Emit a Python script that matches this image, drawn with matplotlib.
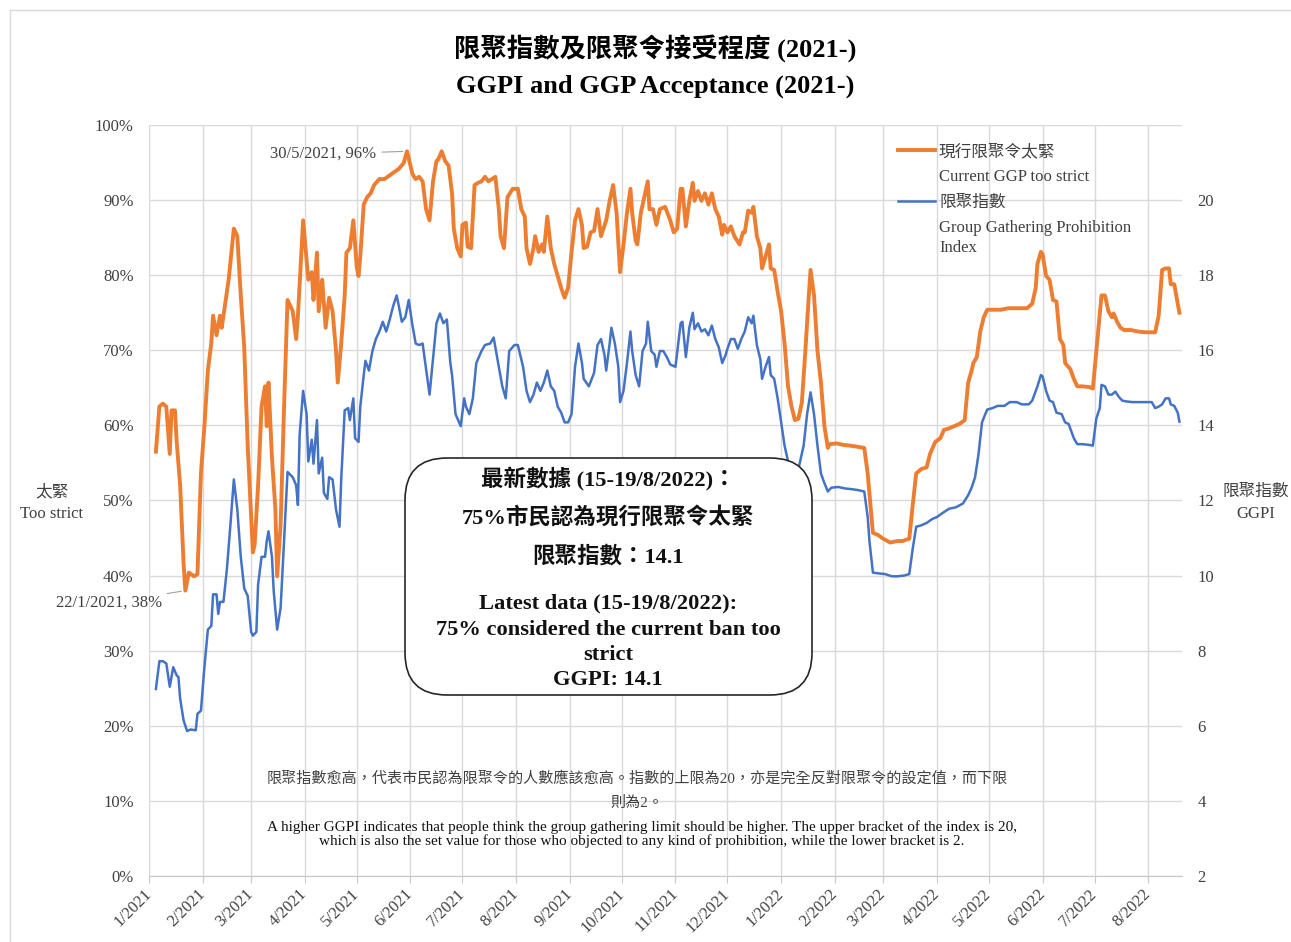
import matplotlib
matplotlib.use("Agg")
import matplotlib.pyplot as plt
from matplotlib.patches import FancyBboxPatch, Rectangle
from matplotlib.lines import Line2D
import numpy as np
import pandas as pd

plt.rcParams['font.family'] = ['Liberation Serif', 'Noto Sans CJK TC']

# ## Data, days counted from 1/1/2021
base_date = pd.Timestamp("2021-01-01")

# share who think the current GGP is too strict (%)
strict_days = [4, 6, 8, 10, 12, 13, 15, 16, 18, 20, 21, 23, 26, 28, 29, 30, 32, 34, 36, 37,
               39, 41, 42, 44, 46, 49, 51, 53, 55, 57, 60, 61, 63, 65, 67, 68, 69, 71, 73, 74,
               76, 78, 80, 83, 85, 86, 88, 89, 91, 92, 94, 95, 97, 98, 100, 102, 104, 106, 108, 109,
               111, 113, 114, 116, 118, 120, 121, 122, 124, 126, 128, 130, 133, 136, 139, 142, 144, 147, 149,
               152, 153, 154, 156, 158, 160, 162, 164, 166, 167, 169, 171, 173, 175, 176, 178, 180, 181, 183, 184,
               186, 188, 190, 192, 194, 196, 198, 200, 202, 203, 205, 207, 210, 213, 215, 217, 218, 220, 222, 223,
               225, 227, 228, 230, 232, 234, 236, 238, 240, 242, 244, 246, 248, 250, 251, 253, 255, 257, 259, 261,
               264, 266, 268, 270, 272, 274, 276, 278, 279, 281, 282, 284, 286, 288, 289, 291, 293, 295, 298, 301,
               303, 305,
               307, 308, 310, 312, 314, 315, 317, 319, 321, 323, 325, 327, 329, 331, 332, 334, 336, 338, 341, 343,
               344, 346, 348, 349, 351, 353, 354, 356, 358, 359, 361, 363, 365, 367, 369, 371, 373, 375, 377, 379,
               381, 382, 384, 386, 388, 390, 392, 393, 397, 401, 405, 408, 413, 415, 416, 418, 421, 424, 428, 432,
               435, 439, 441, 443, 446, 449, 451, 454, 457, 459, 462,
               464, 468, 471, 473, 475, 476, 478, 480, 482, 484, 488, 492, 496, 499, 503, 507, 510, 512, 513, 515,
               516, 518, 520, 522, 524, 526, 528, 529, 532, 534, 536, 539, 543, 545, 547, 550, 552, 554, 556, 557,
               559, 561, 563, 567, 571, 575, 578, 581, 583, 585, 587, 589, 590, 592, 594, 595]
strict_pct = [56.5, 62.5, 62.9, 62.5, 56.2, 62, 62, 57.8, 52, 41.5, 38, 40.4, 39.9, 40.2, 46.7, 53.6, 59.9, 67.3, 71, 74.6,
              72, 74.6, 73, 76.2, 79.4, 86.2, 85.2, 77.3, 70.4, 57.3, 43.1, 44.1, 52, 62.5, 65.2, 59.9, 65.7, 55.7, 48.8, 39.9,
              46.7, 62.5, 76.7, 75.2, 71.5, 74.6, 83, 87.3, 82, 79.4, 80.4, 76.7, 83, 75.2, 79.4, 73, 77, 75.2, 69.9, 65.7,
              70.9, 77.3, 83, 83.6, 87.3, 81, 79.9, 82.5, 89.4, 90.4, 90.9, 92, 92.8, 92.8, 93.3, 93.8, 94.1, 94.9, 96.5,
              93.6, 93.1, 92.8, 93.1, 92.5, 88.8, 87.3, 92.5, 95.2, 95.4, 96.5, 95.2, 94.6, 90.9, 86.2, 83.6, 82.5, 86.7, 87, 83.8,
              83.6, 92, 92.3, 92.5, 93.1, 92.5, 92.8, 93.1, 88.8, 85.2, 83.6, 90.4, 91.5, 91.5, 88.8, 87.8, 83.6, 81.5, 83.6, 85.2,
              83.1, 84.1, 83.1, 87.8, 83.6, 81.5, 79.9, 78.3, 77, 78.3, 83.1, 87.3, 88.8, 86.7, 83.6, 83.8, 85.7, 85.9, 88.8, 85.2,
              87.3, 89.9, 92, 88.3, 80.4, 84.1, 88.3, 91.5, 88.3, 84.6, 84.1, 88.3, 90.4, 92.5, 88.8, 88.8, 86.7, 88.8, 89.1, 87.3,
              85.7, 86.2,
              91.5, 91.5, 86.5, 89.9, 92.3, 89.9, 91.2, 89.9, 90.9, 89.4, 90.9, 88.8, 87.8, 85.4, 86.7, 85.7, 86.5, 85.2, 84.1, 85.7,
              85.7, 88.6, 88.3, 89.1, 85.2, 83.6, 80.9, 82.5, 84.1, 80.9, 80.7, 77.8, 75.2, 70.9, 65.2, 62.5, 60.7, 60.9, 63.1, 69.9,
              77.3, 80.7, 77.3, 69.9, 65.7, 59.9, 57, 57.5, 57.6, 57.4, 57.3, 57.2, 57, 53.6, 50.9, 45.7, 45.4, 44.9, 44.4, 44.6,
              44.6, 44.9, 49.4, 53.6, 54.2, 54.4, 56.2, 57.8, 58.3, 59.4, 59.6,
              59.8, 60.2, 60.7, 65.7, 67.3, 68.3, 69.1, 72.5, 74.4, 75.4, 75.4, 75.4, 75.6, 75.6, 75.6, 75.6, 76.2, 78.3, 81.5, 83.1,
              82.8, 79.9, 79.4, 76.7, 76.5, 71.5, 70.7, 68.3, 67.5, 66.2, 65.2, 65.2, 65.1, 64.9, 69.9, 77.3, 77.3, 75.2, 74.4, 74.9,
              73.8, 73, 72.7, 72.7, 72.5, 72.4, 72.4, 72.4, 74.6, 80.7, 80.9, 80.9, 78.8, 78.8, 76.2, 75]

# Group Gathering Prohibition Index (right axis)
ggpi_days = [4, 6, 8, 10, 12, 14, 16, 17, 18, 20, 22, 24, 27, 28, 30, 31, 32, 34, 36, 37,
             39, 40, 41, 43, 45, 47, 49, 51, 53, 55, 57, 59, 60, 62, 63, 65, 67, 68, 69, 71,
             72, 74, 76, 78, 80, 83, 85, 86, 87, 89, 91, 92, 94, 95, 97, 98, 100, 101, 103, 104,
             106, 108, 110, 111, 113, 115, 116, 118, 119, 121, 122, 124, 125, 127, 129, 131, 133, 135, 137, 139,
             141, 143, 144, 146, 148, 150,
             152, 154, 156, 158, 162, 166, 168, 170, 172, 174, 175, 177, 180, 182, 183, 185, 187, 189, 192, 194,
             197, 199, 202, 204, 206, 208, 211, 213, 216, 218, 220, 222, 224, 226, 228, 230, 232, 234, 236, 238,
             240, 242, 244, 246, 248, 250, 251, 254, 257, 259, 261, 263, 264, 266, 267, 269, 271, 272, 274, 276,
             278, 279, 281, 283, 285, 287, 288, 290, 292, 293, 295, 297, 299, 301, 304,
             307, 308, 310, 312, 314, 315, 317, 319, 321, 323, 325, 327, 329, 331, 333, 334, 336, 338, 340, 342,
             344, 346, 348, 349, 351, 353, 354, 356, 358, 359, 361, 363, 365, 367, 369, 371, 373, 375, 378, 380,
             382, 384, 386, 388, 390, 392, 394, 398, 402, 406, 409, 413, 415, 416, 418, 421, 425, 429, 432, 436,
             439, 441, 443, 446, 449, 452, 455, 458, 462,
             466, 470, 473, 475, 477, 479, 481, 482, 484, 487, 490, 494, 497, 501, 504, 508, 510, 513, 515, 516,
             518, 520, 522, 524, 527, 529, 531, 534, 536, 539, 543, 545, 547, 549, 550, 552, 554, 556, 558, 560,
             562, 564, 568, 572, 576, 579, 581, 583, 585, 587, 589, 590, 592, 594, 595]
ggpi_vals = [6.98, 7.72, 7.72, 7.66, 7.04, 7.56, 7.34, 7.3, 6.72, 6.14, 5.86, 5.9, 5.88, 6.32, 6.4, 6.98, 7.56, 8.56, 8.66, 9.5,
             9.5, 8.98, 9.3, 9.3, 10.18, 11.34, 12.56, 11.76, 10.5, 9.66, 9.46, 8.5, 8.4, 8.5, 9.76, 10.5, 10.5, 10.92, 11.18, 10.5,
             9.6, 8.56, 9.14, 10.92, 12.76, 12.62, 12.4, 11.88, 13.76, 14.92, 14.3, 13.04, 13.62, 12.98, 14.14, 12.72, 13.14, 12.2, 12.04, 12.62,
             12.56, 11.76, 11.3, 12.56, 14.4, 14.46, 14.14, 14.72, 13.66, 13.56, 14.5, 15.34, 15.72, 15.46, 15.98, 16.3, 16.5, 16.76, 16.5, 16.82,
             17.18, 17.46, 17.24, 16.76, 16.88, 17.34,
             16.7, 16.18, 16.14, 16.18, 14.82, 16.72, 16.98, 16.72, 16.82, 15.66, 15.34, 14.3, 13.98, 14.72, 14.5, 14.3, 14.72, 15.66, 15.98, 16.14,
             16.18, 16.34, 15.56, 15.04, 14.72, 15.98, 16.14, 16.14, 15.56, 14.92, 14.62, 14.82, 15.14, 14.92, 15.14, 15.46, 15.04, 14.92, 14.5, 14.34,
             14.08, 14.08, 14.3, 15.56, 16.18, 15.66, 15.24, 15.04, 15.4, 16.14, 16.3, 15.88, 15.46, 16.18, 16.6, 16.18, 15.56, 14.62, 14.92, 15.66,
             16.5, 15.98, 15.34, 15.04, 15.98, 16.18, 16.76, 15.98, 15.88, 15.56, 15.98, 15.98, 15.82, 15.62, 15.56,
             16.72, 16.76, 15.82, 16.6, 17, 16.56, 16.72, 16.5, 16.56, 16.4, 16.66, 16.3, 16.08, 15.66, 15.88, 16.04, 16.3, 16.3, 16.04, 16.3,
             16.5, 16.88, 16.72, 16.92, 16.14, 15.76, 15.24, 15.56, 15.82, 15.34, 15.24, 14.72, 14.08, 13.46, 13.04, 12.62, 12.4, 12.84, 13.46, 14.3,
             14.88, 14.3, 13.46, 12.72, 12.46, 12.24, 12.34, 12.36, 12.32, 12.3, 12.28, 12.24, 11.56, 10.92, 10.08, 10.06, 10.04, 9.98, 9.98, 10,
             10.04, 10.72, 11.3, 11.34, 11.4, 11.5, 11.56, 11.66, 11.78,
             11.82, 11.92, 12.14, 12.34, 12.62, 13.24, 14.08, 14.2, 14.42, 14.46, 14.52, 14.52, 14.62, 14.62, 14.56, 14.56, 14.66, 15.04, 15.34, 15.3,
             14.92, 14.66, 14.62, 14.34, 14.3, 14.08, 14.04, 13.66, 13.5, 13.5, 13.48, 13.46, 14.18, 14.46, 15.08, 15.04, 14.82, 14.82, 14.9, 14.76,
             14.66, 14.64, 14.62, 14.62, 14.62, 14.62, 14.46, 14.5, 14.56, 14.72, 14.72, 14.56, 14.52, 14.34, 14.1]

pct_ticks = list(range(0, 101, 10))
ggpi_ticks = list(range(2, 21, 2))
month_starts = pd.date_range("2021-01-01", "2022-08-01", freq="MS")
month_labels = [f"{d.month}/{d.year}" for d in month_starts]

strict_dates = base_date + pd.to_timedelta(strict_days, unit="D")
ggpi_dates = base_date + pd.to_timedelta(ggpi_days, unit="D")

ORANGE = "#ED7D31"
BLUE = "#4472C4"
GRID = "#d9d9d9"
TXT = "#404040"
W, H = 1291, 942


def fx(px):
    return px / W


def fy(py):
    return 1 - py / H


# ## Figure
fig = plt.figure(figsize=(12.91, 9.42), dpi=100)
ax = fig.add_axes([0.1154, 0.0701, 0.8002, 0.7972])
ax2 = ax.twinx()

ax.plot(strict_dates, strict_pct, color=ORANGE, lw=2.8, solid_joinstyle="round")
ax2.plot(ggpi_dates, ggpi_vals, color=BLUE, lw=1.8, solid_joinstyle="round")

ax.set_xlim(base_date, base_date + pd.Timedelta(days=596.5))
ax.set_ylim(0, 100)
ax2.set_ylim(2, 22)
ax.set_yticks(pct_ticks)
ax.set_yticklabels([f"{v}%" for v in pct_ticks])
ax2.set_yticks(ggpi_ticks)
ax.set_xticks(month_starts)
ax.set_xticklabels(month_labels, rotation=45, ha="right", va="center", rotation_mode="anchor")

ax.grid(True, color=GRID, lw=1)
ax.set_axisbelow(True)
for a in (ax, ax2):
    for s in ("top", "left", "right"):
        a.spines[s].set_visible(False)
ax.spines["bottom"].set_color("#c8c8c8")
ax2.spines["bottom"].set_visible(False)
ax.tick_params(axis="y", length=0, pad=11, labelsize=12, labelcolor=TXT)
ax2.tick_params(axis="y", length=0, pad=11, labelsize=12, labelcolor=TXT)
ax.tick_params(axis="x", length=5, color="#c8c8c8", pad=6, labelsize=12, labelcolor=TXT)

# legend (handles aligned with the first line of each label, as in Excel)
for ypx, col, lw in ((150, ORANGE, 2.8), (201, BLUE, 1.8)):
    fig.add_artist(Line2D([fx(898), fx(935)], [fy(ypx), fy(ypx)], color=col, lw=lw,
                          transform=fig.transFigure))
legend_text = [("現行限聚令太緊", 152), ("Current GGP too strict", 177),
               ("限聚指數", 203), ("Group Gathering Prohibition", 228), ("Index", 248)]
for txt, ypx in legend_text:
    fig.text(fx(939), fy(ypx), txt, ha="left", va="center", fontsize=12, color=TXT)

# annotations for peak and trough
i_max = int(np.argmax(strict_pct[:90]))
i_min = int(np.argmin(strict_pct[:20]))
ax.annotate("30/5/2021, 96%", xy=(strict_dates[i_max], strict_pct[i_max]),
            xytext=(-22, -2), textcoords="offset points", ha="right", va="center",
            fontsize=12, color=TXT,
            arrowprops=dict(arrowstyle="-", color="#a0a0a0", lw=0.8, shrinkA=2, shrinkB=3))
ax.annotate("22/1/2021, 38%", xy=(strict_dates[i_min], strict_pct[i_min]),
            xytext=(-17, -9), textcoords="offset points", ha="right", va="center",
            fontsize=12, color=TXT,
            arrowprops=dict(arrowstyle="-", color="#a0a0a0", lw=0.8, shrinkA=2, shrinkB=3))

# titles
fig.text(fx(655), fy(48), "限聚指數及限聚令接受程度 (2021-)", ha="center", va="center",
         fontsize=19, fontweight="bold")
fig.text(fx(655), fy(86), "GGPI and GGP Acceptance (2021-)", ha="center", va="center",
         fontsize=19, fontweight="bold")

# axis titles
fig.text(fx(52), fy(503), "太緊\nToo strict", ha="center", va="center",
         fontsize=12, color=TXT, linespacing=1.5)
fig.text(fx(1256), fy(503), "限聚指數\nGGPI", ha="center", va="center",
         fontsize=12, color=TXT, linespacing=1.5)

# rounded box with latest data
box = FancyBboxPatch((4.05, 2.47), 4.07, 2.37, boxstyle="round,pad=0,rounding_size=0.42",
                     transform=fig.dpi_scale_trans, facecolor="white", edgecolor="#262626",
                     lw=1.2, zorder=5)
fig.add_artist(box)
box_lines = [("最新數據 (15-19/8/2022)：", 479),
             ("75%市民認為現行限聚令太緊", 518),
             ("限聚指數：14.1", 557),
             ("Latest data (15-19/8/2022):", 603),
             ("75% considered the current ban too", 630),
             ("strict", 655),
             ("GGPI: 14.1", 680)]
for txt, ypx in box_lines:
    fig.text(fx(608), fy(ypx), txt, ha="center", va="center", fontsize=16.2,
             fontweight="bold", color="#111111", zorder=6)

# footnote
fig.text(fx(637), fy(778),
         "限聚指數愈高，代表市民認為限聚令的人數應該愈高。指數的上限為20，亦是完全反對限聚令的設定值，而下限",
         ha="center", va="center", fontsize=10.9, color=TXT)
fig.text(fx(637), fy(803), "則為2。", ha="center", va="center", fontsize=10.9, color=TXT)
fig.text(fx(642), fy(834),
         "A higher GGPI indicates that people think the group gathering limit should be higher. "
         "The upper bracket of the index is 20,\nwhich is also the set value for those who objected "
         "to any kind of prohibition, while the lower bracket is 2.",
         ha="center", va="center", fontsize=11, color="#111111", linespacing=1.05)

# chart border
fig.add_artist(Rectangle((0.1, -0.2), 13.5, 9.52, transform=fig.dpi_scale_trans,
                         fill=False, edgecolor=GRID, lw=1))

fig.savefig("out.png", dpi=100)
